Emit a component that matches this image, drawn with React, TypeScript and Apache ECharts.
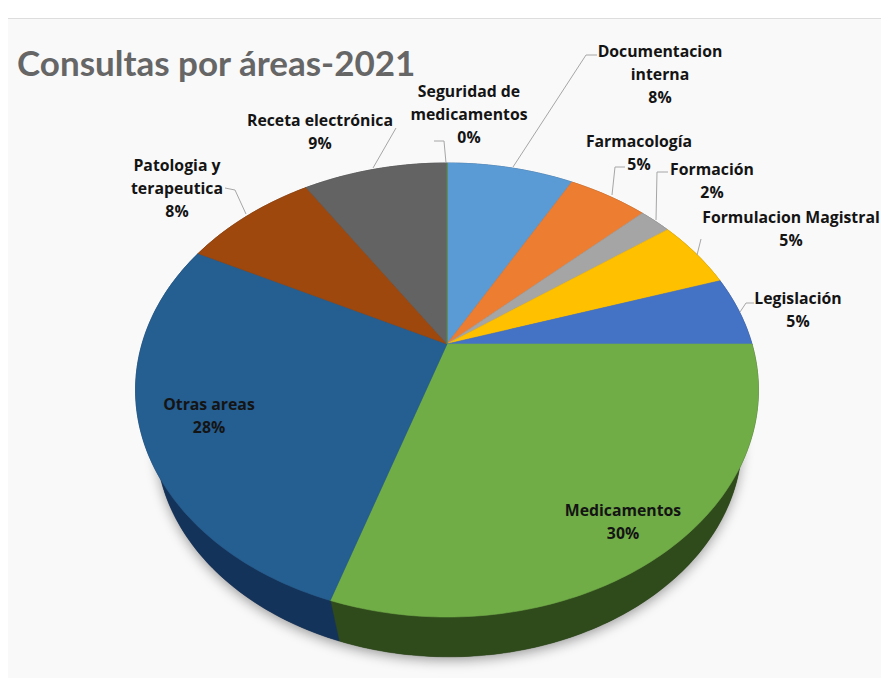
import React, { useEffect, useRef } from "react";
import * as echarts from "echarts";

const titleText = "Consultas por áreas-2021";
const categories = [
  "Documentacion\ninterna",
  "Farmacología",
  "Formación",
  "Formulacion Magistral",
  "Legislación",
  "Medicamentos",
  "Otras areas",
  "Patologia y\nterapeutica",
  "Receta electrónica",
  "Seguridad de\nmedicamentos",
];
const values = [8, 5, 2, 5, 5, 30, 27.5, 8.4, 9.1, 0];
const topColors = ["#5B9BD5", "#ED7D31", "#A5A5A5", "#FFC000", "#4472C4", "#70AD47", "#255E91", "#9E480E", "#636363", "#5E8F3A"];
const sideColors = ["#2D4E6B", "#773F18", "#535353", "#806000", "#223962", "#2F4A1B", "#14335A", "#4F2407", "#323232", "#2F4A1B"];

// label centres and first line middle, in page pixels
const labelPos: [number, number][] = [
  [660, 50], [639, 140], [712, 168], [791, 216], [798, 297],
  [623, 509], [209, 403], [177, 164], [320, 119], [469, 90],
];
const leaders: ([number, number][] | null)[] = [
  [[513, 167], [586, 55], [597, 55]],
  [[612, 195], [615, 167], [625, 167]],
  [[656, 220], [657, 172], [668, 172]],
  [[697, 255], [701, 239]],
  [[740, 312], [746, 303], [754, 303]],
  null,
  null,
  [[246, 214], [235, 190], [225, 188]],
  [[373, 168], [396, 128]],
  [[446, 163], [444, 141], [434, 141]],
];

// perspective projection of the pie disc
const K = 0.2026;
type Face = { cx: number; cy: number; A: number; B: number };
const topFace: Face = { cx: 447, cy: 344, A: 305, B: 217.7 };
const lowFace: Face = { cx: 449, cy: 396, A: 287, B: 208 };
const project = (f: Face, deg: number): [number, number] => {
  const t = (deg * Math.PI) / 180;
  const u = Math.sin(t);
  const v = -Math.cos(t);
  const d = 1 - K * v;
  return [f.cx + (f.A * u) / d, f.cy + (f.B * v) / d];
};
const arc = (f: Face, a0: number, a1: number) => {
  const pts: [number, number][] = [];
  const n = Math.max(1, Math.ceil(Math.abs(a1 - a0)));
  for (let i = 0; i <= n; i++) pts.push(project(f, a0 + ((a1 - a0) * i) / n));
  return pts;
};
const total = values.reduce((a, b) => a + b, 0);
const startAngle = (i: number) => (values.slice(0, i).reduce((a, b) => a + b, 0) / total) * 360;
const endAngle = (i: number) => startAngle(i) + (values[i] / total) * 360;

export default function App() {
  const ref = useRef<HTMLDivElement>(null);
  useEffect(() => {
    const chart = echarts.init(ref.current!, undefined, { renderer: "svg" });
    const idx = values.map((_, i) => i);
    chart.setOption({
      animation: false,
      backgroundColor: "#ffffff",
      graphic: [
        { type: "rect", z: 0, shape: { x: 8, y: 18, width: 873, height: 660 }, style: { fill: "#f9f9f9" } },
        { type: "line", z: 0, shape: { x1: 8, y1: 18.5, x2: 881, y2: 18.5 }, style: { stroke: "#dddddd", lineWidth: 1 } },
        {
          type: "text", z: 1, x: 17, y: 62,
          style: { text: titleText, fill: "#666666", font: "bold 35px Lato, 'Open Sans', sans-serif", textAlign: "left", textVerticalAlign: "middle" },
        },
        {
          type: "polygon", z: 1,
          shape: { points: arc(lowFace, 0, 360) },
          style: { fill: "#444444", shadowBlur: 12, shadowColor: "rgba(0,0,0,0.35)", shadowOffsetY: 4 },
        },
      ],
      series: [
        {
          type: "custom", coordinateSystem: "none", z: 2, silent: true,
          data: idx,
          renderItem: (_p: any, api: any) => {
            const i = api.value(0);
            const a0 = startAngle(i), a1 = endAngle(i);
            return {
              type: "polygon",
              shape: { points: [...arc(topFace, a0, a1), ...arc(lowFace, a1, a0)] },
              style: { fill: sideColors[i], stroke: sideColors[i], lineWidth: 0.5 },
            };
          },
        },
        {
          type: "custom", coordinateSystem: "none", z: 3, silent: true,
          data: idx,
          renderItem: (_p: any, api: any) => {
            const i = api.value(0);
            const a0 = startAngle(i), a1 = endAngle(i);
            return {
              type: "polygon",
              shape: { points: [[topFace.cx, topFace.cy], ...arc(topFace, a0, a1)] },
              style: { fill: topColors[i], stroke: topColors[i], lineWidth: 0.6 },
            };
          },
        },
        {
          type: "custom", coordinateSystem: "none", z: 4, silent: true,
          data: idx,
          renderItem: (_p: any, api: any) => {
            const i = api.value(0);
            const [x, y] = labelPos[i];
            const children: any[] = [
              {
                type: "text",
                style: {
                  x, y: y - 11,
                  text: `${categories[i]}\n${Math.round(values[i])}%`,
                  fill: "#141414",
                  font: "bold 15.8px 'Open Sans', Lato, sans-serif",
                  lineHeight: 23,
                  align: "center",
                  verticalAlign: "top",
                },
              },
            ];
            if (leaders[i]) {
              children.push({
                type: "polyline",
                shape: { points: leaders[i] },
                style: { fill: "none", stroke: "#a6a6a6", lineWidth: 1 },
              });
            }
            return { type: "group", children };
          },
        },
      ],
    });
    return () => chart.dispose();
  }, []);
  return <div ref={ref} style={{ position: "absolute", left: 0, top: 0, width: 881, height: 678 }} />;
}
